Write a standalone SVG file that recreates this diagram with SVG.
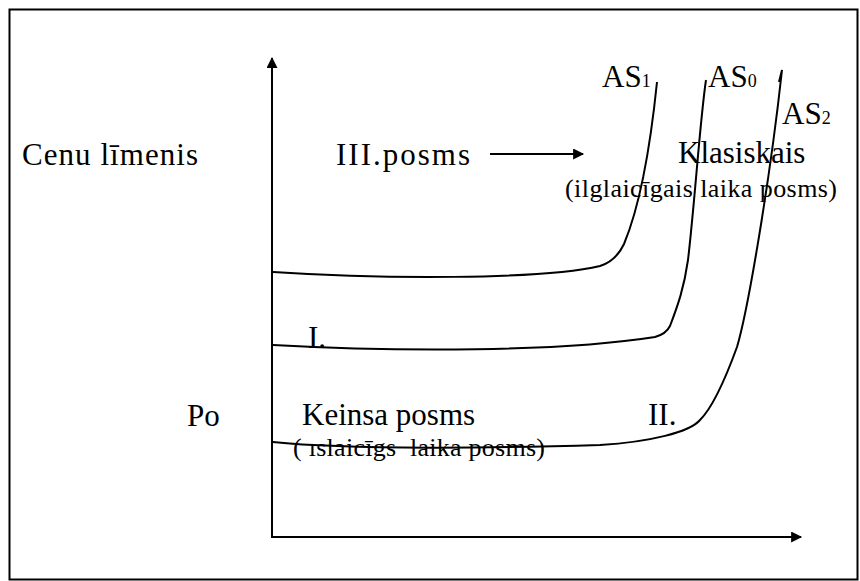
<svg xmlns="http://www.w3.org/2000/svg" width="860" height="581" viewBox="0 0 860 581">
<style>
.t{font-family:"Liberation Serif","Times New Roman",serif;font-size:31px;fill:#000}
.s{font-family:"Liberation Serif","Times New Roman",serif;font-size:26px;fill:#000;white-space:pre}
.sub{font-size:18px}
.c{fill:none;stroke:#000;stroke-width:2}
</style>
<defs>
<marker id="ahB" viewBox="0 0 10 10" refX="9" refY="5" markerWidth="14" markerHeight="11" markerUnits="userSpaceOnUse" orient="auto">
<path d="M0,0 L10,5 L0,10 z" fill="#000"/>
</marker>
</defs>
<rect x="9.5" y="9.5" width="848" height="570" fill="#fff" stroke="#000" stroke-width="2"/>
<g id="axes">
<path class="c" d="M272,537 L272,58" marker-end="url(#ahB)"/>
<path class="c" d="M271,537 L801,537" marker-end="url(#ahB)"/>
</g>
<g id="connectors">
<path id="AS1-curve" class="c" d="M273,272 C380,279 540,280 600,266 Q616,261 624,244 C634,220 648,170 657,82"/>
<path id="AS0-curve" class="c" d="M273,345 C400,352 560,352 655,337 Q666,334 670,326 C678,305 684,288 688,260 C695,200 700,120 706,80"/>
<path id="AS2-curve" class="c" d="M273,442 C350,450 500,448 600,445 C650,442 690,432 700,420 C712,408 725,380 737,347 C748,310 770,180 782,70 L779,82"/>
<path id="phase-arrow" class="c" d="M490,154 L583,154" marker-end="url(#ahB)"/>
</g>
<g id="labels">
<text class="t" x="22" y="165" textLength="176" lengthAdjust="spacing">Cenu līmenis</text>
<text class="t" x="336" y="165" textLength="134" lengthAdjust="spacing">III.posms</text>
<text class="t" x="678" y="163">Klasiskais</text>
<text class="s" x="565" y="197" textLength="272" lengthAdjust="spacing">(ilglaicīgais laika posms)</text>
<text class="t" x="602" y="87">AS<tspan class="sub">1</tspan></text>
<text class="t" x="708" y="87">AS<tspan class="sub">0</tspan></text>
<text class="t" x="782" y="124">AS<tspan class="sub">2</tspan></text>
<text class="t" x="308" y="348">I.</text>
<text class="t" x="187" y="426">Po</text>
<text class="t" x="302" y="425">Keinsa posms</text>
<text class="s" x="293" y="456" textLength="252" lengthAdjust="spacing">( ıslaicīgs  laika posms)</text>
<text class="t" x="648" y="425">II.</text>
</g>
</svg>
